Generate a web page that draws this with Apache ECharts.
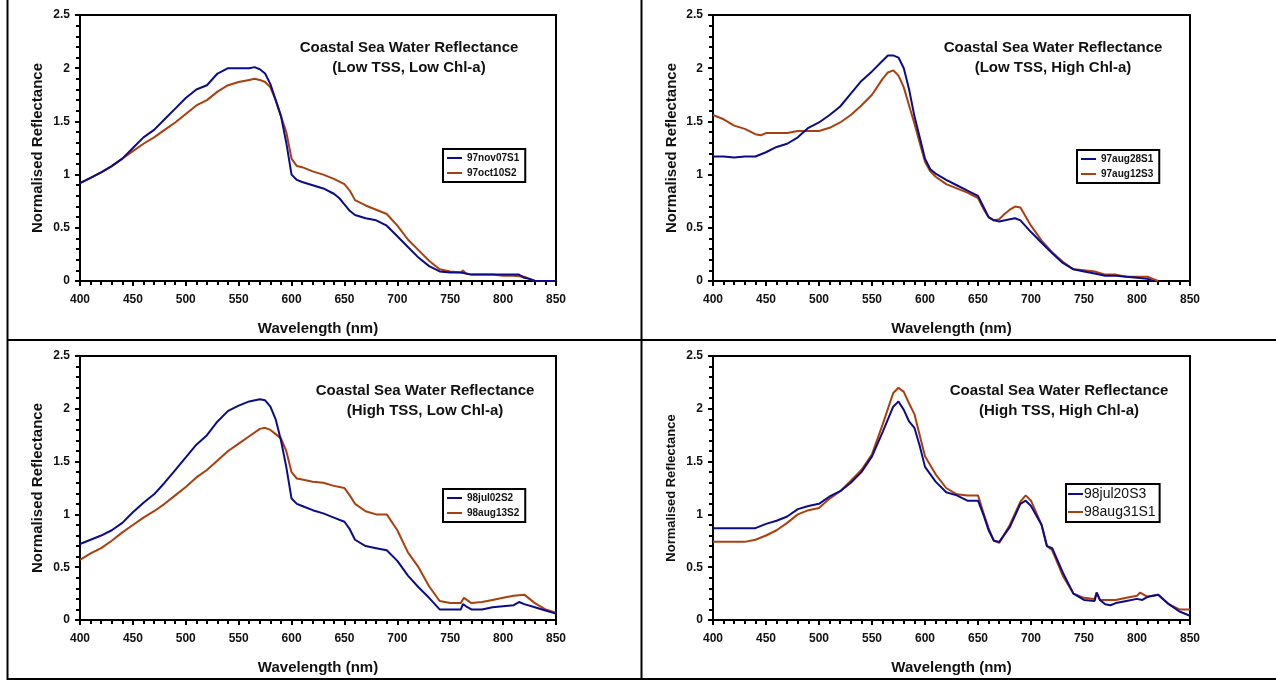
<!DOCTYPE html>
<html>
<head>
<meta charset="utf-8">
<script src="https://cdn.jsdelivr.net/npm/echarts@6/dist/echarts.min.js"></script>
<style>
  html, body { margin: 0; padding: 0; background: #fff; }
  #chart { width: 1276px; height: 680px; }
</style>
</head>
<body>
<div id="chart"></div>
<script>
// ---- data ----
// panel 1: Low TSS, Low Chl-a
var wl1Blue = [400,410,420,430,440,450,460,470,480,490,500,510,520,530,540,550,560,565,570,575,580,585,590,595,600,605,610,620,630,640,645,650,655,660,670,680,690,700,710,720,730,740,750,760,770,780,790,800,810,815,820,825,830,840,850];
var val1Blue = [0.92,0.97,1.02,1.08,1.15,1.25,1.35,1.42,1.52,1.62,1.72,1.80,1.84,1.95,2.00,2.00,2.00,2.01,1.99,1.95,1.85,1.70,1.55,1.30,1.00,0.95,0.93,0.90,0.87,0.82,0.78,0.72,0.66,0.62,0.59,0.57,0.52,0.42,0.32,0.22,0.14,0.09,0.08,0.08,0.06,0.06,0.06,0.06,0.06,0.06,0.03,0.02,0.0,0.0,0.0];
var wl1Brown = [400,410,420,430,440,450,460,470,480,490,500,510,520,530,540,550,560,565,570,575,580,585,590,595,600,605,610,620,630,640,650,655,660,670,680,690,700,710,720,730,740,750,760,762,765,770,780,790,800,810,820,825,830];
var val1Brown = [0.92,0.97,1.02,1.08,1.15,1.22,1.29,1.35,1.42,1.49,1.57,1.65,1.70,1.78,1.84,1.87,1.89,1.90,1.89,1.87,1.82,1.70,1.55,1.40,1.15,1.08,1.07,1.03,1.00,0.96,0.91,0.85,0.76,0.71,0.67,0.63,0.52,0.39,0.29,0.19,0.11,0.09,0.08,0.10,0.07,0.06,0.06,0.06,0.05,0.05,0.04,0.02,0.0];

// panel 2: Low TSS, High Chl-a
var wl2Blue = [400,410,420,430,440,450,460,470,480,490,500,510,520,530,540,550,560,565,570,575,580,585,590,595,600,605,610,620,630,640,650,655,660,665,670,680,685,690,700,710,720,730,740,750,760,770,780,790,800,810,815];
var val2Blue = [1.17,1.17,1.16,1.17,1.17,1.21,1.26,1.29,1.35,1.44,1.49,1.56,1.64,1.76,1.88,1.97,2.07,2.12,2.12,2.10,2.00,1.80,1.55,1.35,1.15,1.05,1.01,0.95,0.90,0.85,0.80,0.70,0.60,0.57,0.56,0.58,0.59,0.57,0.46,0.36,0.26,0.17,0.11,0.09,0.07,0.05,0.05,0.04,0.03,0.02,0.0];
var wl2Brown = [400,410,420,430,440,445,450,460,470,480,490,500,510,520,530,540,550,560,565,570,575,580,585,590,595,600,605,610,620,630,640,650,655,660,665,670,675,680,685,690,700,710,720,730,740,750,760,770,780,790,800,810,815,820];
var val2Brown = [1.56,1.52,1.46,1.43,1.38,1.37,1.39,1.39,1.39,1.41,1.41,1.41,1.44,1.49,1.56,1.65,1.75,1.90,1.96,1.98,1.93,1.82,1.65,1.48,1.30,1.12,1.03,0.98,0.91,0.87,0.83,0.78,0.68,0.60,0.57,0.58,0.63,0.67,0.70,0.69,0.52,0.38,0.27,0.18,0.11,0.10,0.09,0.06,0.06,0.04,0.04,0.04,0.02,0.0];

// panel 3: High TSS, Low Chl-a
var wl3Blue = [400,410,420,430,440,450,460,470,480,490,500,510,520,530,540,550,560,570,575,580,585,590,595,600,605,610,620,630,640,650,655,660,670,680,690,700,710,720,730,740,750,760,762,765,770,780,790,800,810,815,820,830,840,850];
var val3Blue = [0.72,0.76,0.80,0.85,0.92,1.02,1.11,1.19,1.30,1.42,1.54,1.66,1.75,1.88,1.98,2.03,2.07,2.09,2.08,2.02,1.90,1.70,1.45,1.15,1.10,1.08,1.04,1.01,0.97,0.93,0.86,0.76,0.70,0.68,0.66,0.56,0.42,0.31,0.21,0.10,0.10,0.10,0.15,0.13,0.10,0.10,0.12,0.13,0.14,0.17,0.15,0.12,0.09,0.06];
var wl3Brown = [400,410,420,430,440,450,460,470,480,490,500,510,520,530,540,550,560,570,575,580,585,590,595,600,605,610,620,630,640,650,655,660,670,680,690,700,710,720,730,740,750,760,763,770,780,790,800,810,820,830,840,850];
var val3Brown = [0.57,0.63,0.68,0.75,0.83,0.90,0.97,1.03,1.10,1.18,1.26,1.35,1.42,1.51,1.60,1.67,1.74,1.81,1.82,1.80,1.76,1.72,1.60,1.40,1.34,1.33,1.31,1.30,1.27,1.25,1.18,1.10,1.03,1.00,1.00,0.85,0.64,0.50,0.32,0.18,0.16,0.16,0.21,0.16,0.17,0.19,0.21,0.23,0.24,0.16,0.10,0.07];

// panel 4: High TSS, High Chl-a
var wl4Blue = [400,410,420,430,440,450,460,470,480,490,500,510,520,530,540,550,560,570,575,580,585,590,595,600,610,620,630,640,650,655,660,665,670,680,690,695,700,710,715,720,730,740,750,760,762,765,770,775,780,790,800,805,810,820,830,840,850];
var val4Blue = [0.87,0.87,0.87,0.87,0.87,0.91,0.94,0.98,1.05,1.08,1.10,1.17,1.22,1.30,1.40,1.55,1.78,2.02,2.07,1.99,1.88,1.82,1.65,1.45,1.31,1.21,1.18,1.13,1.13,1.00,0.85,0.75,0.74,0.88,1.10,1.13,1.08,0.90,0.70,0.68,0.45,0.25,0.19,0.18,0.26,0.19,0.15,0.14,0.16,0.18,0.20,0.19,0.22,0.24,0.15,0.08,0.04];
var wl4Brown = [400,410,420,430,440,450,460,470,480,490,500,510,520,530,540,550,560,570,575,580,585,590,595,600,610,620,630,640,650,655,660,665,670,680,690,695,700,710,715,720,730,740,750,760,762,765,770,780,790,800,803,810,820,830,840,850];
var val4Brown = [0.74,0.74,0.74,0.74,0.76,0.80,0.85,0.92,1.00,1.04,1.06,1.15,1.22,1.32,1.42,1.57,1.85,2.15,2.20,2.16,2.05,1.95,1.75,1.55,1.38,1.25,1.19,1.18,1.18,1.02,0.87,0.75,0.73,0.90,1.12,1.18,1.13,0.90,0.70,0.66,0.42,0.25,0.21,0.20,0.26,0.19,0.19,0.19,0.21,0.23,0.26,0.22,0.24,0.15,0.10,0.10];

var panelTitles = [
  "Coastal Sea Water Reflectance\n(Low TSS, Low Chl-a)",
  "Coastal Sea Water Reflectance\n(Low TSS, High Chl-a)",
  "Coastal Sea Water Reflectance\n(High TSS, Low Chl-a)",
  "Coastal Sea Water Reflectance\n(High TSS, High Chl-a)"
];
var seriesNames = [
  ["97nov07S1", "97oct10S2"],
  ["97aug28S1", "97aug12S3"],
  ["98jul02S2", "98aug13S2"],
  ["98jul20S3", "98aug31S1"]
];
var xTicks = [400, 450, 500, 550, 600, 650, 700, 750, 800, 850];
var yTicks = [0, 0.5, 1, 1.5, 2, 2.5];

var BLUE = "#0c0c8a";
var BROWN = "#a8400f";
var FONT = "Liberation Sans";

function pairs(xs, ys) {
  var out = [];
  for (var i = 0; i < xs.length; i++) out.push([xs[i], ys[i]]);
  return out;
}

var seriesData = [
  [pairs(wl1Blue, val1Blue), pairs(wl1Brown, val1Brown)],
  [pairs(wl2Blue, val2Blue), pairs(wl2Brown, val2Brown)],
  [pairs(wl3Blue, val3Blue), pairs(wl3Brown, val3Brown)],
  [pairs(wl4Blue, val4Blue), pairs(wl4Brown, val4Brown)]
];

// panel geometry
var grids = [
  { left: 80, top: 15, width: 476, height: 266 },
  { left: 713, top: 15, width: 477, height: 266 },
  { left: 80, top: 356, width: 476, height: 264 },
  { left: 713, top: 356, width: 477, height: 264 }
];
var titlePos = [[404, 33], [1048, 33], [420, 376], [1054, 376]];
var legendPos = [[443, 149], [1077, 150], [443, 489], [1066, 484]];
var yNameGap = [35, 33.5, 35, 35];

var myChart = echarts.init(document.getElementById("chart"));

var option = {
  backgroundColor: "#fff",
  animation: false,
  title: [],
  legend: [],
  grid: [],
  xAxis: [],
  yAxis: [],
  series: [],
  graphic: [
    { type: "line", shape: { x1: 7.5, y1: 0, x2: 7.5, y2: 680 }, style: { stroke: "#000", lineWidth: 2 } },
    { type: "line", shape: { x1: 641.5, y1: 0, x2: 641.5, y2: 680 }, style: { stroke: "#000", lineWidth: 2 } },
    { type: "line", shape: { x1: 7, y1: 340, x2: 1276, y2: 340 }, style: { stroke: "#000", lineWidth: 2 } },
    { type: "line", shape: { x1: 7, y1: 679, x2: 1276, y2: 679 }, style: { stroke: "#000", lineWidth: 2 } }
  ]
};

for (var p = 0; p < 4; p++) {
  var g = grids[p];
  var last = p === 3;
  option.grid.push({
    left: g.left, top: g.top, width: g.width, height: g.height,
    show: true, borderColor: "#000", borderWidth: 2, backgroundColor: "transparent"
  });
  option.title.push({
    text: panelTitles[p],
    left: titlePos[p][0], top: titlePos[p][1], textAlign: "center",
    textStyle: { fontFamily: FONT, fontSize: 15, fontWeight: "bold", color: "#111", lineHeight: 20 }
  });
  option.legend.push({
    data: seriesNames[p],
    left: legendPos[p][0], top: legendPos[p][1],
    orient: "vertical",
    icon: "rect",
    itemWidth: 15, itemHeight: 2,
    itemGap: last ? 4 : 5,
    padding: last ? [3, 4, 3, 2] : [4, 6, 4, 4],
    borderColor: "#000", borderWidth: 2,
    textStyle: last
      ? { fontFamily: FONT, fontSize: 14, color: "#111", padding: [0, 0, 0, -4] }
      : { fontFamily: FONT, fontSize: 10, fontWeight: "bold", color: "#111" }
  });
  option.xAxis.push({
    type: "value", gridIndex: p,
    min: 400, max: 850, interval: 50,
    name: "Wavelength (nm)", nameLocation: "middle", nameGap: 40,
    nameTextStyle: { fontFamily: FONT, fontSize: 15, fontWeight: "bold", color: "#111" },
    axisLine: { show: true, onZero: false, lineStyle: { color: "#000", width: 2 } },
    axisTick: { show: true, length: 5, lineStyle: { color: "#000", width: 2 } },
    minorTick: { show: true, splitNumber: 5, length: 4, lineStyle: { color: "#000", width: 2 } },
    splitLine: { show: false },
    axisLabel: {
      fontFamily: FONT, fontSize: 12, fontWeight: "bold", color: "#111", margin: 13,
      customValues: xTicks
    }
  });
  option.yAxis.push({
    type: "value", gridIndex: p,
    min: 0, max: 2.5, interval: 0.5,
    name: "Normalised Reflectance", nameLocation: "middle", nameGap: yNameGap[p],
    nameTextStyle: { fontFamily: FONT, fontSize: last ? 13 : 15, fontWeight: "bold", color: "#111" },
    axisLine: { show: true, lineStyle: { color: "#000", width: 2 } },
    axisTick: { show: true, length: 5, lineStyle: { color: "#000", width: 2 } },
    minorTick: { show: true, splitNumber: 5, length: 4, lineStyle: { color: "#000", width: 2 } },
    splitLine: { show: false },
    axisLabel: {
      fontFamily: FONT, fontSize: 12, fontWeight: "bold", color: "#111", margin: 10,
      customValues: yTicks
    }
  });
  for (var s = 0; s < 2; s++) {
    option.series.push({
      name: seriesNames[p][s],
      type: "line",
      xAxisIndex: p, yAxisIndex: p,
      data: seriesData[p][s],
      showSymbol: false,
      lineStyle: { color: s === 0 ? BLUE : BROWN, width: 2 },
      itemStyle: { color: s === 0 ? BLUE : BROWN },
      z: s === 0 ? 3 : 2
    });
  }
}

myChart.setOption(option);
</script>
</body>
</html>
